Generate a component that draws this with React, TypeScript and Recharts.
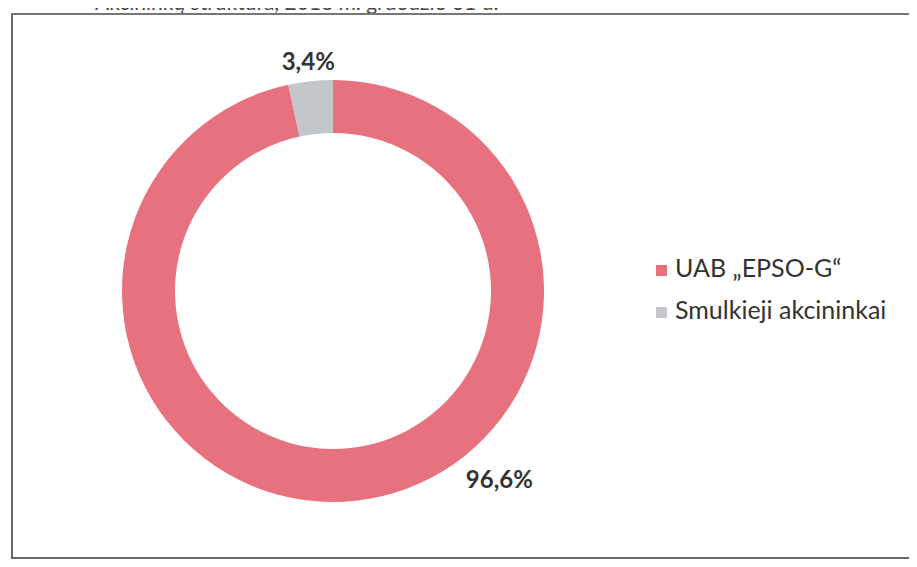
import React from 'react';
import { PieChart, Pie, Cell, Legend } from 'recharts';

const shareholders = ['UAB „EPSO-G“', 'Smulkieji akcininkai'];
const shares = [96.6, 3.4];
const COLORS = ['#e8717f', '#c3c6cb'];

const data = shareholders.map((name, i) => ({ name, value: shares[i] }));

const RAD = Math.PI / 180;

// excel pushed the big label down to the right, so it gets its own angle
const renderLabel = (props: any) => {
  const { cx, cy, midAngle, outerRadius, percent, index } = props;
  const angle = index === 0 ? midAngle + 35.4 : midAngle;
  const r = index === 0 ? outerRadius + 40 : outerRadius + 21;
  const x = cx + r * Math.cos(-angle * RAD);
  const y = cy + r * Math.sin(-angle * RAD);
  return (
    <text
      x={x}
      y={y}
      textAnchor="middle"
      dominantBaseline="central"
      fill="#333"
      fontFamily="Lato"
      fontWeight={700}
      fontSize={24}
    >
      {(percent * 100).toFixed(1).replace('.', ',') + '%'}
    </text>
  );
};

const App: React.FC = () => {
  return (
    <div style={{ position: 'relative', width: 917, height: 567, margin: -8, background: '#fff', overflow: 'hidden' }}>
      <div
        style={{
          position: 'absolute',
          left: 95,
          top: -9,
          fontFamily: 'Lato',
          fontSize: 21,
          lineHeight: '21px',
          color: '#444',
          whiteSpace: 'nowrap',
        }}
      >
        Akcininkų struktūra, 2018 m. gruodžio 31 d.
      </div>
      <div
        style={{
          position: 'absolute',
          left: 11,
          top: 13,
          width: 899,
          height: 542,
          borderTop: '2px solid #777',
          borderLeft: '2px solid #666',
          borderBottom: '2px solid #666',
          borderRight: '1px solid #bbb',
        }}
      />
      <div style={{ position: 'absolute', left: 0, top: 0 }}>
        <PieChart width={917} height={567}>
          <Pie
            data={data}
            dataKey="value"
            nameKey="name"
            cx={328}
            cy={286}
            innerRadius={158}
            outerRadius={211}
            startAngle={90}
            endAngle={-270}
            stroke="none"
            labelLine={false}
            label={renderLabel}
            isAnimationActive={false}
          >
            {data.map((entry, index) => (
              <Cell key={`cell-${index}`} fill={COLORS[index % COLORS.length]} />
            ))}
          </Pie>
          <Legend
            layout="vertical"
            align="right"
            verticalAlign="middle"
            iconType="square"
            iconSize={11}
            itemSorter={null}
            wrapperStyle={{ left: 656, top: 246, width: 261, fontFamily: 'Lato', fontSize: 25, lineHeight: '42px' }}
            formatter={(value: string) => <span style={{ color: '#333', marginLeft: 4 }}>{value}</span>}
          />
        </PieChart>
      </div>
    </div>
  );
};

export default App;
